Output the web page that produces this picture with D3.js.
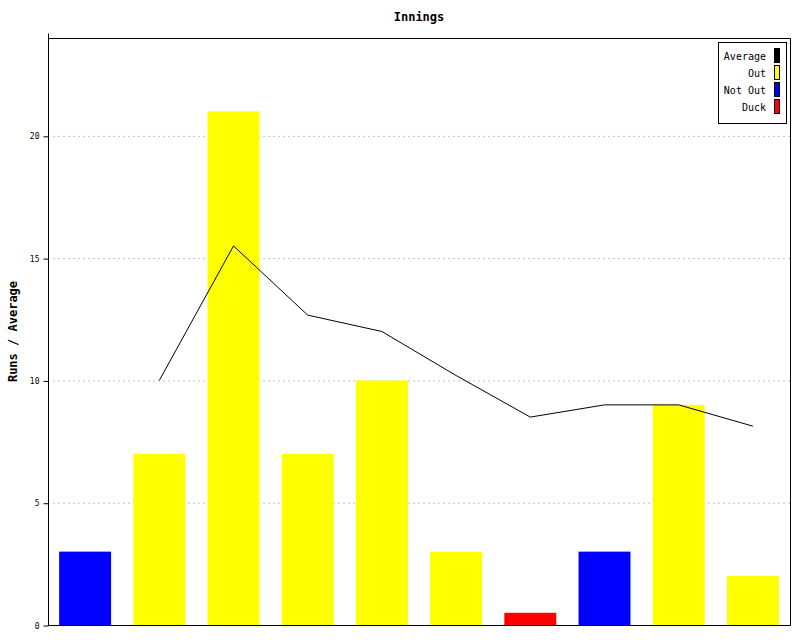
<!DOCTYPE html>
<html><head><meta charset="utf-8">
<script src="https://cdn.jsdelivr.net/npm/d3@7"></script>
<style>body{margin:0;background:#fff;}svg{display:block;}</style>
</head><body>
<svg id="chart" width="800" height="640"></svg>
<script>
const innings = ["1","2","3","4","5","6","7","8","9","10"];
const runs = [3, 7, 21, 7, 10, 3, 0.5, 3, 9, 2];
const status = ["Not Out","Out","Out","Out","Out","Out","Duck","Not Out","Out","Out"];
const average = [null, 10, 15.5, 12.67, 12, 10.2, 8.5, 9, 9, 8.13];
const yTicks = [0, 5, 10, 15, 20];
const legendLabels = ["Average", "Out", "Not Out", "Duck"];
const legendColors = ["#000000", "#ffff00", "#0000ff", "#ff0000"];

const svg = d3.select("#chart");
const L = 48, R = 790, T = 38, B = 625;
const font = "'DejaVu Sans Mono', monospace";
const color = d3.scaleOrdinal().domain(["Out","Not Out","Duck"]).range(["#ffff00","#0000ff","#ff0000"]);

const x = d3.scaleBand().domain(innings).range([L, R]).paddingInner(0.3).paddingOuter(0.15);
const y = d3.scaleLinear().domain([0, 24]).range([B, T]);

// gridlines
svg.append("g").selectAll("line").data(yTicks.filter(d => d > 0)).join("line")
  .attr("x1", L + 5).attr("x2", R).attr("y1", d => y(d) + 0.5).attr("y2", d => y(d) + 0.5)
  .attr("stroke", "#c0c0c0").attr("stroke-dasharray", "2,3").attr("stroke-width", 1);

// bars
svg.append("g").selectAll("rect").data(runs).join("rect")
  .attr("x", (d, i) => x(innings[i])).attr("width", x.bandwidth())
  .attr("y", d => y(d)).attr("height", d => B - y(d))
  .attr("fill", (d, i) => color(status[i]));

// average line
const line = d3.line().defined(d => d.v != null)
  .x(d => x(d.k) + x.bandwidth() / 2).y(d => y(d.v));
svg.append("path").datum(innings.map((k, i) => ({k, v: average[i]})))
  .attr("d", line).attr("fill", "none").attr("stroke", "#000").attr("stroke-width", 1);

// frame
svg.append("path").attr("d", `M${L+0.5},${T+0.5}H${R+0.5}V${B+0.5}H${L+0.5}`)
  .attr("fill", "none").attr("stroke", "#000").attr("stroke-width", 1);

// y axis
const yAxis = d3.axisLeft(y).tickValues(yTicks).tickSize(5).tickPadding(4);
const gy = svg.append("g").attr("transform", `translate(${L+0.5},0.5)`).call(yAxis);
gy.select(".domain").attr("d", `M0,${T-5}V${B}`);
gy.selectAll("text").attr("font-family", font).attr("font-size", 8).attr("fill", "#000");
gy.selectAll("line").attr("stroke", "#000");

// title
svg.append("text").attr("x", (L + R) / 2).attr("y", 21).attr("text-anchor", "middle")
  .attr("font-family", font).attr("font-size", 12).attr("font-weight", "bold").text("Innings");

// y label
svg.append("text").attr("transform", `translate(17,${(T + B) / 2}) rotate(-90)`)
  .attr("text-anchor", "middle").attr("font-family", font).attr("font-size", 12)
  .attr("font-weight", "bold").text("Runs / Average");

// legend
const lg = svg.append("g");
lg.append("rect").attr("x", 718.5).attr("y", 42.5).attr("width", 68).attr("height", 81)
  .attr("fill", "#fff").attr("stroke", "#000");
legendLabels.forEach((lab, i) => {
  const cy = 56 + i * 17;
  lg.append("text").attr("x", 766).attr("y", cy + 4).attr("text-anchor", "end")
    .attr("font-family", font).attr("font-size", 10).text(lab);
  lg.append("rect").attr("x", 774.5).attr("y", cy - 7.5).attr("width", 5).attr("height", 14)
    .attr("fill", legendColors[i]).attr("stroke", "#000");
});
</script>
</body></html>
